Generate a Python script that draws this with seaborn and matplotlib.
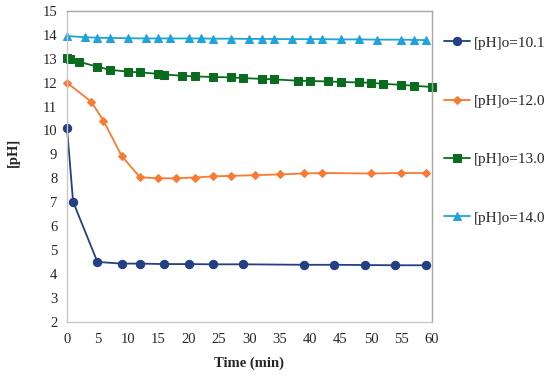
import matplotlib
matplotlib.use('Agg')
import matplotlib.pyplot as plt
import pandas as pd
import numpy as np
import seaborn as sns
from matplotlib.ticker import MultipleLocator

# Data
t_101 = [0, 1, 5, 9, 12, 16, 20, 24, 29, 39, 44, 49, 54, 59]
ph_101 = [10.12, 7.02, 4.5, 4.43, 4.43, 4.41, 4.41, 4.4, 4.4, 4.38, 4.38, 4.37, 4.36, 4.36]

t_120 = [0, 4, 6, 9, 12, 15, 18, 21, 24, 27, 31, 35, 39, 42, 50, 55, 59]
ph_120 = [12.0, 11.2, 10.41, 8.93, 8.04, 8.0, 8.0, 8.03, 8.08, 8.1, 8.13, 8.16, 8.2, 8.22, 8.2, 8.22, 8.22]

t_130 = [0, 0.5, 2, 5, 7, 10, 12, 15, 16, 19, 21, 24, 27, 29, 32, 34, 38, 40, 43, 45, 48, 50, 52, 55, 57, 60]
ph_130 = [13.02, 13.0, 12.87, 12.67, 12.54, 12.46, 12.43, 12.37, 12.34, 12.29, 12.26, 12.24, 12.22, 12.19,
          12.16, 12.14, 12.08, 12.07, 12.05, 12.03, 12.01, 12.0, 11.95, 11.91, 11.87, 11.82]

t_140 = [0, 3, 5, 7, 10, 13, 15, 17, 20, 22, 24, 27, 30, 32, 34, 37, 40, 42, 45, 48, 51, 55, 57, 59]
ph_140 = [13.95, 13.9, 13.88, 13.87, 13.86, 13.85, 13.85, 13.85, 13.85, 13.85, 13.84, 13.84, 13.83, 13.83,
          13.83, 13.82, 13.82, 13.82, 13.81, 13.81, 13.8, 13.8, 13.79, 13.78]

labels = ['[pH]o=10.1', '[pH]o=12.0', '[pH]o=13.0', '[pH]o=14.0']

sns.set_style('white')
plt.rcParams['font.family'] = ['Liberation Serif', 'DejaVu Serif']

fig = plt.figure(figsize=(5.5, 3.78), dpi=100)
ax = fig.add_axes([0.1218, 0.149, 0.6632, 0.822])

series = [
    (t_101, ph_101, '#243f82', 'o', 6.0),
    (t_120, ph_120, '#fa7a32', 'D', 4.2),
    (t_130, ph_130, '#0b6b1f', 's', 5.5),
    (t_140, ph_140, '#1fa3d9', '^', 5.5),
]
for (t, ph, c, m, ms), lab in zip(series, labels):
    df = pd.DataFrame({'t': t, 'ph': ph})
    sns.lineplot(data=df, x='t', y='ph', ax=ax, color=c, marker=m, markersize=ms,
                 markeredgecolor=c, linewidth=1.3, label=lab, sort=False, clip_on=False)

ax.set_xlim(0, 60)
ax.set_ylim(2, 15)
ax.xaxis.set_major_locator(MultipleLocator(5))
ax.xaxis.set_minor_locator(MultipleLocator(1))
ax.yaxis.set_major_locator(MultipleLocator(1))
ax.yaxis.set_minor_locator(MultipleLocator(0.2))
ax.tick_params(which='both', direction='in', color='#bdbdbd', labelsize=10.5, pad=7)
ax.tick_params(which='major', length=4)
ax.tick_params(which='minor', length=2.5)
ax.tick_params(axis='x', pad=8)

for s in ['left', 'bottom']:
    ax.spines[s].set_color('#c8c8c8')
for s in ['top', 'right']:
    ax.spines[s].set_color('#a6a6a6')
for s in ax.spines.values():
    s.set_linewidth(1.0)

ax.set_xlabel('Time (min)', fontsize=10.5, fontweight='bold', labelpad=8)
ax.set_ylabel('[pH]', fontsize=10.5, fontweight='bold')
ax.yaxis.set_label_coords(-0.128, 0.545)

ax.legend(loc='upper left', bbox_to_anchor=(0.808, 0.905), bbox_transform=fig.transFigure,
          frameon=False, fontsize=11, labelspacing=2.92, handlelength=1.7,
          handletextpad=0.2, borderpad=0, borderaxespad=0)

fig.savefig('out.png', dpi=100)
